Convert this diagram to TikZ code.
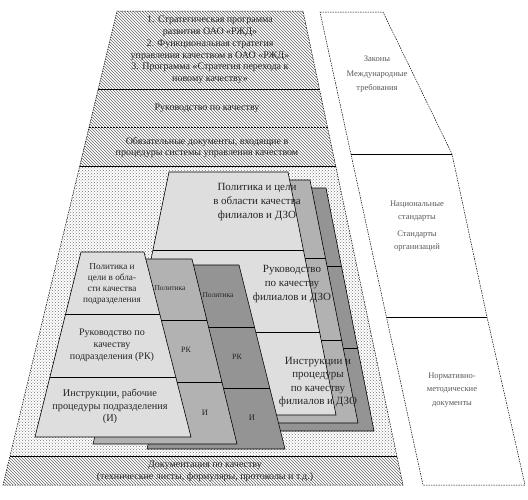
\documentclass[tikz,border=0pt]{standalone}
\usepackage{fontspec}
\setmainfont{Liberation Serif}
\usetikzlibrary{patterns}
\begin{document}
\begin{tikzpicture}[x=1pt,y=-1pt,
  outline/.style={draw=black,line width=0.5pt,dash pattern=on 1.5pt off 1pt},
  divider/.style={draw=black,line width=0.6pt},
  hatch/.style={pattern=north west lines,pattern color=black!60},
  dotsbg/.style={pattern=crosshatch dots,pattern color=black!55},
  front/.style={fill=black!13,draw=black,line width=0.6pt},
  midlayer/.style={fill=black!30,draw=black,line width=0.6pt},
  backlayer/.style={fill=black!42,draw=black,line width=0.6pt},
  ptext/.style={text=black!85,align=center,inner sep=0pt},
  rtext/.style={text=black!65,align=center,inner sep=0pt,font=\fontsize{8.5}{13.5}\selectfont}
]
\useasboundingbox (0,0) rectangle (528,499);
% ---------- big pyramid ----------
\coordinate (pTL) at (117,11);   \coordinate (pTR) at (303,11);
\coordinate (p1L) at (98.2,89);  \coordinate (p1R) at (319.5,89);
\coordinate (p2L) at (89.1,127); \coordinate (p2R) at (327.5,127);
\coordinate (p3L) at (79.7,166); \coordinate (p3R) at (335.7,166);
\coordinate (p4L) at (10,456);   \coordinate (p4R) at (396.9,456);
\coordinate (pBL) at (3,485);    \coordinate (pBR) at (403,485);
\path[hatch] (pTL) -- (pTR) -- (p3R) -- (p3L) -- cycle;
\path[dotsbg] (p3L) -- (p3R) -- (p4R) -- (p4L) -- cycle;
\path[hatch] (p4L) -- (p4R) -- (pBR) -- (pBL) -- cycle;
\draw[outline] (pTL) -- (pTR) -- (pBR) -- (pBL) -- cycle;
\draw[divider] (p1L) -- (p1R);
\draw[divider,dash pattern=on 2pt off 1pt] (p2L) -- (p2R);
\draw[divider] (p3L) -- (p3R);
\draw[divider] (p4L) -- (p4R);

% ---------- stack A (branches) : back layers ----------
\draw[backlayer] (207,188) -- (326,188) -- (374,431) -- (157,431) -- cycle;
\draw[divider] (191,266) -- (341.4,266);
\draw[divider] (174.2,348) -- (357.7,348);
\draw[midlayer] (191,180) -- (310,180) -- (358,423) -- (141,423) -- cycle;
\draw[divider] (175,258) -- (325.4,258);
\draw[divider] (158.2,340) -- (341.7,340);
\draw[front] (169,172) -- (288,172) -- (336,415) -- (119,415) -- cycle;
\draw[divider] (153,250) -- (303.4,250);
\draw[divider] (136.2,332) -- (319.7,332);

% ---------- stack B (subdivision) ----------
\draw[backlayer] (193,265) -- (239,265) -- (285,449) -- (147,449) -- cycle;
\draw[divider] (177.5,327) -- (254.5,327);
\draw[divider] (162.3,388) -- (269.8,388);
\draw[midlayer] (139,259) -- (192,259) -- (237,444) -- (93,444) -- cycle;
\draw[divider] (123.8,320) -- (206.8,320);
\draw[divider] (108.4,382) -- (221.9,382);
\draw[front] (81,252) -- (144,252) -- (191,437) -- (35,437) -- cycle;
\draw[divider] (65.6,314) -- (159.8,314);
\draw[divider] (49.9,377) -- (175.8,377);

% ---------- texts of the pyramid ----------
\node[ptext,font=\fontsize{10}{11.8}\selectfont] (t1) at (210,50)
  {1. Стратегическая программа\\развития ОАО «РЖД»\\2. Функциональная стратегия\\управления качеством в ОАО «РЖД»\\3. Программа «Стратегия перехода к\\новому качеству»};
\node[ptext,font=\fontsize{10}{11.8}\selectfont] (t2) at (207,108) {Руководство по качеству};
\node[ptext,font=\fontsize{10}{11.8}\selectfont] (t3) at (207,147.5)
  {Обязательные документы, входящие в\\процедуры системы управления качеством};
\node[ptext,font=\fontsize{10}{12}\selectfont] (t4) at (205,471)
  {Документация по качеству\\(технические листы, формуляры, протоколы и т.д.)};

\node[ptext,font=\fontsize{11}{14}\selectfont] (a1) at (257,202) {Политика и цели\\в области качества\\филиалов и ДЗО};
\node[ptext,font=\fontsize{11}{14}\selectfont] (a2) at (292,284) {Руководство\\по качеству\\филиалов и ДЗО};
\node[ptext,font=\fontsize{11}{13.4}\selectfont] (a3) at (318,382) {Инструкции и\\процедуры\\по качеству\\филиалов и ДЗО};

\node[ptext,font=\fontsize{9.2}{11}\selectfont] (b1) at (112,283.5) {Политика и\\цели в обла-\\сти качества\\подразделения};
\node[ptext,font=\fontsize{10}{12}\selectfont] (b2) at (112,345) {Руководство по\\качеству\\подразделения (РК)};
\node[ptext,font=\fontsize{10.3}{12.5}\selectfont] (b3) at (110,406.5) {Инструкции, рабочие\\процедуры подразделения\\(И)};

\node[ptext,font=\fontsize{7.5}{9}\selectfont] (m1) at (170,288) {Политика};
\node[ptext,font=\fontsize{8}{9}\selectfont] (m2) at (186,350) {РК};
\node[ptext,font=\fontsize{8.5}{9}\selectfont] (m3) at (205,413) {И};
\node[ptext,font=\fontsize{7.5}{9}\selectfont] (k1) at (218,295) {Политика};
\node[ptext,font=\fontsize{8}{9}\selectfont] (k2) at (237,357) {РК};
\node[ptext,font=\fontsize{8.5}{9}\selectfont] (k3) at (252,418) {И};

% ---------- right column ----------
\coordinate (rTL) at (320,12);    \coordinate (rTR) at (383,12);
\coordinate (r1L) at (351,154);   \coordinate (r1R) at (452,154);
\coordinate (r2L) at (386.5,317); \coordinate (r2R) at (487,317);
\coordinate (rBL) at (423,485);   \coordinate (rBR) at (525,485);
\fill[white] (rTL) -- (rTR) -- (r1R) -- (r2R) -- (rBR) -- (rBL) -- cycle;
\draw[outline] (rTL) -- (rTR) -- (r1R) -- (r2R) -- (rBR) -- (rBL) -- cycle;
\draw[divider] (r1L) -- (r1R);
\draw[divider] (r2L) -- (r2R);
\node[rtext] (r1) at (377,74) {Законы\\[2pt]Международные\\требования};
\node[rtext] (r2) at (417,226) {Национальные\\стандарты\\[3pt]Стандарты\\организаций};
\node[rtext] (r3) at (452,390) {Нормативно-\\методические\\документы};
\end{tikzpicture}
\end{document}
